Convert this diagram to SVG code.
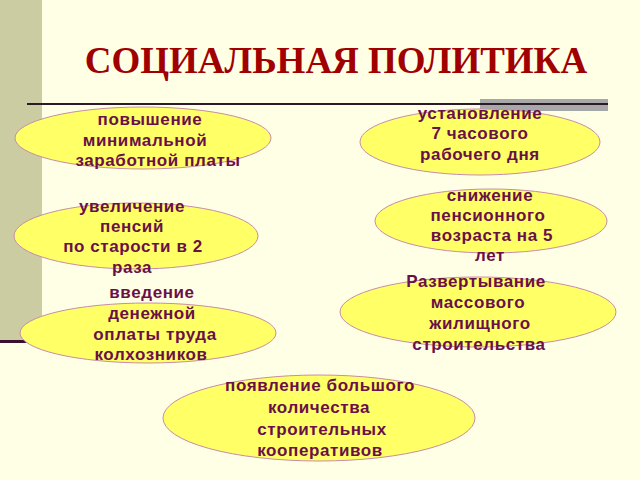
<svg xmlns="http://www.w3.org/2000/svg" width="640" height="480" viewBox="0 0 640 480">
<style>
.oval{fill:#FFFF66;stroke:#C88CA8;stroke-width:1}
.lbl{font-family:"Liberation Sans",Arial,sans-serif;font-weight:bold;font-size:17px;letter-spacing:0.6px;fill:#6A1048;text-anchor:middle}
.title{font-family:"Liberation Serif","Times New Roman",serif;font-weight:bold;font-size:37px;fill:#A00000;text-anchor:middle}
</style>
<rect x="0" y="0" width="640" height="480" fill="#FFFFE6"/>
<rect x="0" y="0" width="42" height="341" fill="#CCCCA2"/>
<rect x="0" y="340" width="40" height="3" fill="#3A1030"/>
<rect x="480" y="99" width="128" height="12" fill="#A8A8A8"/>
<rect x="27" y="103" width="581" height="2" fill="#2A1A2A"/>
<text class="title" x="336" y="73">СОЦИАЛЬНАЯ ПОЛИТИКА</text>
<g id="n1"><ellipse class="oval" cx="143" cy="138" rx="128" ry="31"/>
<text class="lbl" x="150" y="125">повышение</text><text class="lbl" x="145" y="146">минимальной</text><text class="lbl" x="158" y="166">заработной платы</text></g>
<g id="n2"><ellipse class="oval" cx="480" cy="142" rx="120" ry="33"/>
<text class="lbl" x="480" y="119">установление</text><text class="lbl" x="480" y="139">7 часового</text><text class="lbl" x="480" y="160">рабочего дня</text></g>
<g id="n3"><ellipse class="oval" cx="136" cy="236" rx="122" ry="33"/>
<text class="lbl" x="132" y="212">увеличение</text><text class="lbl" x="132" y="232">пенсий</text><text class="lbl" x="133" y="252">по старости в 2</text><text class="lbl" x="132" y="273">раза</text></g>
<g id="n4"><ellipse class="oval" cx="491" cy="221" rx="116" ry="32"/>
<text class="lbl" x="490" y="201">снижение</text><text class="lbl" x="488" y="221">пенсионного</text><text class="lbl" x="492" y="241">возраста на 5</text><text class="lbl" x="490" y="261">лет</text></g>
<g id="n5"><ellipse class="oval" cx="148" cy="333" rx="128" ry="30"/>
<text class="lbl" x="152" y="298">введение</text><text class="lbl" x="152" y="319">денежной</text><text class="lbl" x="155" y="340">оплаты труда</text><text class="lbl" x="151" y="360">колхозников</text></g>
<g id="n6"><ellipse class="oval" cx="478" cy="312" rx="138" ry="35"/>
<text class="lbl" x="476" y="287">Развертывание</text><text class="lbl" x="478" y="308">массового</text><text class="lbl" x="480" y="329">жилищного</text><text class="lbl" x="479" y="350">строительства</text></g>
<g id="n7"><ellipse class="oval" cx="319" cy="418" rx="156" ry="43"/>
<text class="lbl" x="320" y="391">появление большого</text><text class="lbl" x="319" y="413">количества</text><text class="lbl" x="322" y="435">строительных</text><text class="lbl" x="320" y="456">кооперативов</text></g>
<g id="connectors"></g>
</svg>
